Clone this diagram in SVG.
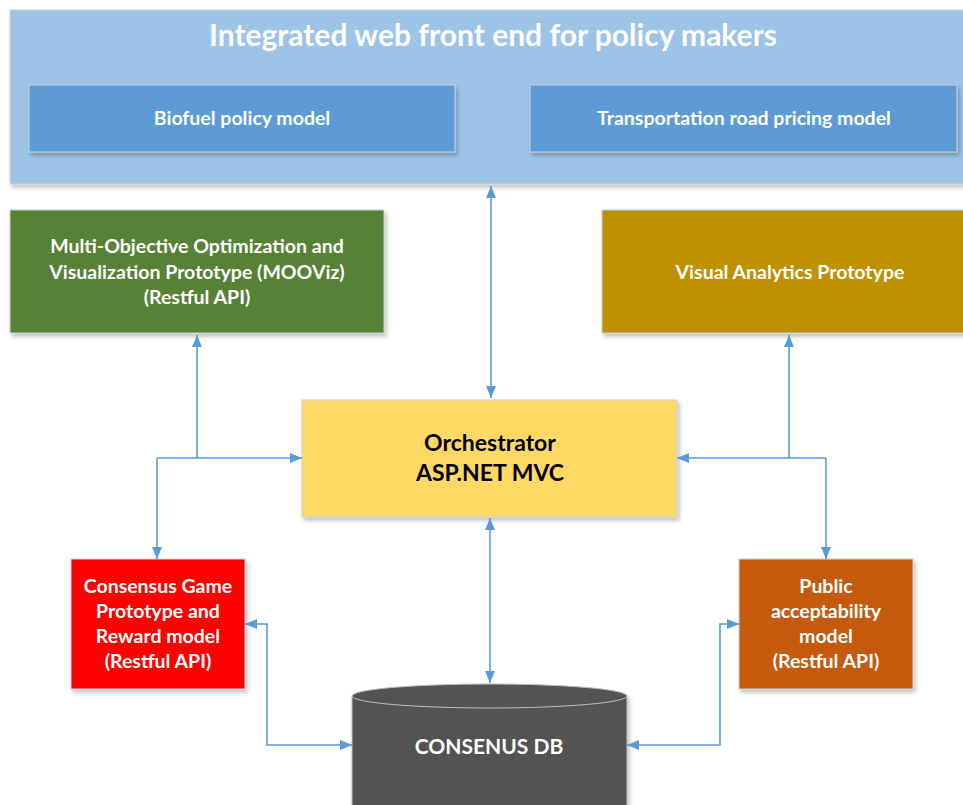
<svg xmlns="http://www.w3.org/2000/svg" width="963" height="805" viewBox="0 0 963 805">
<defs>
<filter id="sh" x="-5%" y="-5%" width="115%" height="125%">
<feDropShadow dx="2" dy="3" stdDeviation="2" flood-color="#000" flood-opacity="0.25"/>
</filter>
<marker id="ah" viewBox="0 0 12 10" markerWidth="12" markerHeight="10" refX="12" refY="5" orient="auto-start-reverse" markerUnits="userSpaceOnUse">
<path d="M0,0 L12,5 L0,10 z" fill="#5B9BD5"/>
</marker>
</defs>
<style>
.box{stroke:#C9D3DE;stroke-width:1;filter:url(#sh)}
.t{font-family:Lato,"Open Sans","Liberation Sans",sans-serif;font-weight:bold;fill:#fff;text-anchor:middle}
.m{font-size:19.5px}
.k{fill:#000}
.c{fill:none;stroke:#5B9BD5;stroke-width:1.6}
</style>
<rect width="963" height="805" fill="#fff"/>
<g id="frontend">
<rect class="box" x="10" y="10" width="960" height="174" fill="#9DC3E6" stroke="none"/>
<text class="t" x="493" y="46" font-size="30">Integrated web front end for policy makers</text>
</g>
<g id="biofuel">
<rect class="box" x="29" y="85" width="426" height="67" fill="#5B9BD5"/>
<text class="t m" x="242" y="125">Biofuel policy model</text>
</g>
<g id="transport">
<rect class="box" x="530" y="85" width="427" height="67" fill="#5B9BD5"/>
<text class="t m" x="744" y="125">Transportation road pricing model</text>
</g>
<g id="mooviz">
<rect class="box" x="10" y="210" width="374" height="123" fill="#548235"/>
<text class="t m" x="197" y="253">Multi-Objective Optimization and</text>
<text class="t m" x="197" y="279">Visualization Prototype (MOOViz)</text>
<text class="t m" x="197" y="304">(Restful API)</text>
</g>
<g id="visual">
<rect class="box" x="602" y="210" width="370" height="123" fill="#BF9000"/>
<text class="t m" x="790" y="279">Visual Analytics Prototype</text>
</g>
<g id="orchestrator">
<rect class="box" x="302" y="400" width="375" height="117" fill="#FFD966"/>
<text class="t k" x="490" y="451" font-size="23">Orchestrator</text>
<text class="t k" x="490" y="481" font-size="23">ASP.NET MVC</text>
</g>
<g id="consensus">
<rect class="box" x="71" y="559" width="174" height="130" fill="#FF0000"/>
<text class="t m" x="158" y="593">Consensus Game</text>
<text class="t m" x="158" y="618">Prototype and</text>
<text class="t m" x="158" y="643">Reward model</text>
<text class="t m" x="158" y="668">(Restful API)</text>
</g>
<g id="public">
<rect class="box" x="739" y="559" width="174" height="130" fill="#C55A11"/>
<text class="t m" x="826" y="593">Public</text>
<text class="t m" x="826" y="618">acceptability</text>
<text class="t m" x="826" y="643">model</text>
<text class="t m" x="826" y="668">(Restful API)</text>
</g>
<g id="db">
<path d="M352,696 L352,812 L627,812 L627,696 A137.5,12 0 0 0 352,696 Z" fill="#525252" stroke="#BFBFBF" stroke-width="1" filter="url(#sh)"/>
<path d="M352,696 A137.5,12 0 0 0 627,696" fill="none" stroke="#BFBFBF" stroke-width="1"/>
<text class="t" x="489" y="754" font-size="21">CONSENUS DB</text>
</g>
<g id="connectors">
<path class="c" d="M491,186 L491,398" marker-start="url(#ah)" marker-end="url(#ah)"/>
<path class="c" d="M197,458 L197,335" marker-end="url(#ah)"/>
<path class="c" d="M157,458 L302,458" marker-end="url(#ah)"/>
<path class="c" d="M157,458 L157,559" marker-end="url(#ah)"/>
<path class="c" d="M789,458 L789,335" marker-end="url(#ah)"/>
<path class="c" d="M826,458 L677,458" marker-end="url(#ah)"/>
<path class="c" d="M826,458 L826,559" marker-end="url(#ah)"/>
<path class="c" d="M490,518 L490,683" marker-start="url(#ah)" marker-end="url(#ah)"/>
<path class="c" d="M245,624 L267,624 L267,745 L352,745" marker-start="url(#ah)" marker-end="url(#ah)"/>
<path class="c" d="M739,624 L720,624 L720,745 L627,745" marker-start="url(#ah)" marker-end="url(#ah)"/>
</g>
</svg>
